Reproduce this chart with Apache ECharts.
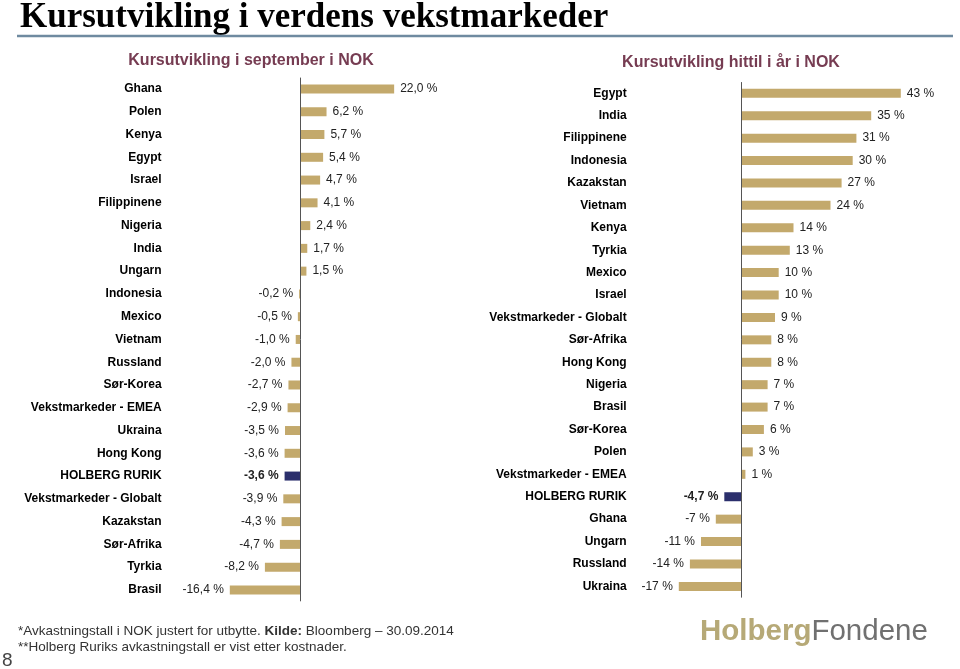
<!DOCTYPE html>
<html>
<head>
<meta charset="utf-8">
<script src="https://cdn.jsdelivr.net/npm/echarts@6/dist/echarts.min.js"></script>
<style>html,body{margin:0;padding:0;background:#fff}#c{width:960px;height:669px}</style>
</head>
<body>
<div id="c"></div>
<script>
// Left chart: Kursutvikling i september i NOK
const leftCategories = ['Ghana','Polen','Kenya','Egypt','Israel','Filippinene','Nigeria','India','Ungarn','Indonesia','Mexico','Vietnam','Russland','Sør-Korea','Vekstmarkeder - EMEA','Ukraina','Hong Kong','HOLBERG RURIK','Vekstmarkeder - Globalt','Kazakstan','Sør-Afrika','Tyrkia','Brasil'];
const leftValues = [22.0,6.2,5.7,5.4,4.7,4.1,2.4,1.7,1.5,-0.2,-0.5,-1.0,-2.0,-2.7,-2.9,-3.5,-3.6,-3.6,-3.9,-4.3,-4.7,-8.2,-16.4];

// Right chart: Kursutvikling hittil i år i NOK
const rightCategories = ['Egypt','India','Filippinene','Indonesia','Kazakstan','Vietnam','Kenya','Tyrkia','Mexico','Israel','Vekstmarkeder - Globalt','Sør-Afrika','Hong Kong','Nigeria','Brasil','Sør-Korea','Polen','Vekstmarkeder - EMEA','HOLBERG RURIK','Ghana','Ungarn','Russland','Ukraina'];
const rightValues = [43,35,31,30,27,24,14,13,10,10,9,8,8,7,7,6,3,1,-4.7,-7,-11,-14,-17];

const highlight = 'HOLBERG RURIK';
const GOLD = '#c3a96c', NAVY = '#2b2f6c';
const FONT = 'Liberation Sans, Arial, sans-serif';

function fmtLeft(v){ return v.toFixed(1).replace('.', ',') + ' %'; }
function fmtRight(v){ return (Number.isInteger(v) ? String(v) : v.toFixed(1).replace('.', ',')) + ' %'; }

function buildData(cats, vals, fmt){
  return vals.map((v, i) => {
    const hl = cats[i] === highlight;
    return {
      value: v,
      itemStyle: { color: hl ? NAVY : GOLD },
      label: {
        position: v < 0 ? 'left' : 'right',
        fontWeight: hl ? 'bold' : 'normal',
        formatter: fmt(v)
      }
    };
  });
}

const chart = echarts.init(document.getElementById('c'));
const zeroLine = {
  silent: true, symbol: ['none','none'],
  label: { show: false },
  lineStyle: { color: '#555', width: 1, type: 'solid' },
  data: [{ xAxis: 0 }]
};
const catAxisCommon = {
  type: 'category', inverse: true,
  axisLine: { show: false, onZero: false }, axisTick: { show: false },
  axisLabel: { color: '#000', fontWeight: 'bold', fontSize: 12, fontFamily: FONT }
};
const valAxisCommon = {
  type: 'value', show: false, splitLine: { show: false }
};

chart.setOption({
  animation: false,
  grid: [
    { left: 171.6, width: 256.8, top: 77.6, height: 523.7, containLabel: false },
    { left: 630.7, width: 314.5, top: 82.1, height: 515.5, containLabel: false }
  ],
  xAxis: [
    Object.assign({ gridIndex: 0, min: -30, max: 30 }, valAxisCommon),
    Object.assign({ gridIndex: 1, min: -30, max: 55 }, valAxisCommon)
  ],
  yAxis: [
    Object.assign({}, catAxisCommon, { gridIndex: 0, data: leftCategories, axisLabel: Object.assign({}, catAxisCommon.axisLabel, { margin: 10 }) }),
    Object.assign({}, catAxisCommon, { gridIndex: 1, data: rightCategories, axisLabel: Object.assign({}, catAxisCommon.axisLabel, { margin: 4 }) })
  ],
  series: [
    {
      type: 'bar', xAxisIndex: 0, yAxisIndex: 0, barWidth: 9,
      data: buildData(leftCategories, leftValues, fmtLeft),
      label: { show: true, distance: 6, color: '#222', fontSize: 12, fontFamily: FONT },
      markLine: zeroLine
    },
    {
      type: 'bar', xAxisIndex: 1, yAxisIndex: 1, barWidth: 9,
      data: buildData(rightCategories, rightValues, fmtRight),
      label: { show: true, distance: 6, color: '#222', fontSize: 12, fontFamily: FONT },
      markLine: zeroLine
    }
  ],
  graphic: [
    { type: 'text', x: 20, y: 18, style: { text: 'Kursutvikling i verdens vekstmarkeder', font: 'bold 35px "Liberation Serif", "Times New Roman", serif', fill: '#000', verticalAlign: 'middle' } },
    { type: 'line', shape: { x1: 17, y1: 36, x2: 953, y2: 36 }, style: { stroke: '#6f8aa0', lineWidth: 2.5 } },
    { type: 'text', x: 251, y: 61, style: { text: 'Kursutvikling i september i NOK', font: 'bold 16px ' + FONT, fill: '#763c52', align: 'center', verticalAlign: 'middle' } },
    { type: 'text', x: 731, y: 63, style: { text: 'Kursutvikling hittil i år i NOK', font: 'bold 16px ' + FONT, fill: '#763c52', align: 'center', verticalAlign: 'middle' } },
    { type: 'text', x: 18, y: 631, style: {
        text: '{n|*Avkastningstall i NOK justert for utbytte. }{b|Kilde:}{n| Bloomberg – 30.09.2014}',
        verticalAlign: 'middle',
        rich: {
          n: { font: '13.5px ' + FONT, fill: '#333' },
          b: { font: 'bold 13.5px ' + FONT, fill: '#333' }
        } } },
    { type: 'text', x: 18, y: 647, style: { text: '**Holberg Ruriks avkastningstall er vist etter kostnader.', font: '13.5px ' + FONT, fill: '#333', verticalAlign: 'middle' } },
    { type: 'text', x: 2, y: 661, style: { text: '8', font: '19px ' + FONT, fill: '#444', verticalAlign: 'middle' } },
    { type: 'text', x: 700, y: 632, style: {
        text: '{h|Holberg}{f|Fondene}', verticalAlign: 'middle',
        rich: {
          h: { font: 'bold 29.5px ' + FONT, fill: '#b6a977' },
          f: { font: '29.5px ' + FONT, fill: '#707070' }
        } } }
  ]
});
</script>
</body>
</html>
